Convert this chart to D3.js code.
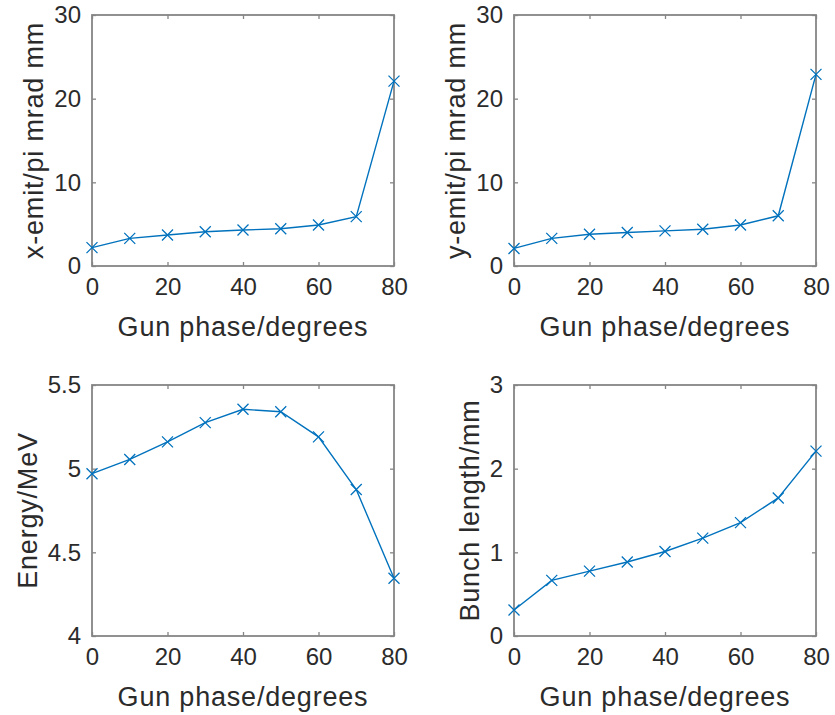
<!DOCTYPE html>
<html>
<head>
<meta charset="utf-8">
<script src="https://cdn.jsdelivr.net/npm/d3@7"></script>
<style>
  html, body { margin: 0; padding: 0; background: #fff; }
  svg { display: block; }
  text { font-family: "Liberation Sans", Arial, Helvetica, sans-serif; fill: #2b2b2b; }
</style>
</head>
<body>
<svg id="chart" width="835" height="715"></svg>
<script>
// Gun phase scan: emittance, energy and bunch length versus gun phase
const gunPhase = [0, 10, 20, 30, 40, 50, 60, 70, 80];
const xEmit = [2.2, 3.3, 3.7, 4.1, 4.3, 4.45, 4.9, 5.9, 22.1];
const yEmit = [2.1, 3.3, 3.8, 4.0, 4.2, 4.4, 4.9, 6.0, 22.9];
const energy = [4.97, 5.055, 5.16, 5.275, 5.355, 5.34, 5.19, 4.875, 4.345];
const bunchLength = [0.31, 0.665, 0.775, 0.885, 1.01, 1.17, 1.355, 1.65, 2.21];

const xTicks = [0, 20, 40, 60, 80];
const emitTicks = [0, 10, 20, 30];
const energyTicks = [4, 4.5, 5, 5.5];
const bunchTicks = [0, 1, 2, 3];

const xLabel = "Gun phase/degrees";

const panels = [
  { x0: 92,  y0: 15,  values: xEmit,       domain: [0, 30],   ticks: emitTicks,   label: "x-emit/pi mrad mm", fmt: d3.format("d") },
  { x0: 514, y0: 15,  values: yEmit,       domain: [0, 30],   ticks: emitTicks,   label: "y-emit/pi mrad mm", fmt: d3.format("d") },
  { x0: 92,  y0: 385, values: energy,      domain: [4, 5.5],  ticks: energyTicks, label: "Energy/MeV",        fmt: d => String(d) },
  { x0: 514, y0: 385, values: bunchLength, domain: [0, 3],    ticks: bunchTicks,  label: "Bunch length/mm",   fmt: d3.format("d") }
];

const W = 302, H = 251;
const lineColor = "#0072BD";
const axisColor = "#858585";
const svg = d3.select("#chart");

panels.forEach(p => {
  const g = svg.append("g").attr("transform", `translate(${p.x0},${p.y0})`);
  const x = d3.scaleLinear().domain([0, 80]).range([0, W]);
  const y = d3.scaleLinear().domain(p.domain).range([H, 0]);

  // inward ticks on all four sides
  const tickLen = 4;
  const gx = g.append("g").attr("transform", `translate(0,${H})`)
    .call(d3.axisBottom(x).tickValues(xTicks).tickSizeInner(-tickLen).tickSizeOuter(0).tickPadding(12).tickFormat(d3.format("d")));
  const gy = g.append("g")
    .call(d3.axisLeft(y).tickValues(p.ticks).tickSizeInner(-tickLen).tickSizeOuter(0).tickPadding(11).tickFormat(p.fmt));
  const gxt = g.append("g").call(d3.axisTop(x).tickValues(xTicks).tickSizeInner(-tickLen).tickSizeOuter(0).tickFormat(""));
  const gyr = g.append("g").attr("transform", `translate(${W},0)`).call(d3.axisRight(y).tickValues(p.ticks).tickSizeInner(-tickLen).tickSizeOuter(0).tickFormat(""));

  [gx, gy, gxt, gyr].forEach(a => {
    a.select(".domain").remove();
    a.selectAll(".tick line").attr("stroke", axisColor).attr("stroke-width", 1.3);
    a.selectAll(".tick text")
      .attr("font-size", 24)
      .attr("fill", "#2b2b2b")
      .style("font-family", "'Liberation Sans', Arial, sans-serif");
  });

  // axes box
  g.append("rect")
    .attr("x", 0).attr("y", 0).attr("width", W).attr("height", H)
    .attr("fill", "none").attr("stroke", axisColor).attr("stroke-width", 1.8);

  // data line
  const line = d3.line().x((d, i) => x(gunPhase[i])).y(d => y(d));
  g.append("path")
    .datum(p.values)
    .attr("d", line)
    .attr("fill", "none")
    .attr("stroke", lineColor)
    .attr("stroke-width", 1.4);

  // x markers
  const m = 5.5;
  g.selectAll(".mk")
    .data(p.values)
    .enter().append("path")
    .attr("class", "mk")
    .attr("transform", (d, i) => `translate(${x(gunPhase[i])},${y(d)})`)
    .attr("d", `M${-m},${-m}L${m},${m}M${-m},${m}L${m},${-m}`)
    .attr("stroke", lineColor)
    .attr("stroke-width", 1.3)
    .attr("fill", "none");

  // axis labels
  g.append("text")
    .attr("x", W / 2).attr("y", H + 70)
    .attr("text-anchor", "middle")
    .attr("font-size", 27)
    .style("letter-spacing", "0.8px")
    .text(xLabel);

  // y label sits just left of the widest tick label
  let tickW = 0;
  gy.selectAll(".tick text").each(function () { tickW = Math.max(tickW, this.getBBox().width); });
  const labelX = -(11 + tickW + 11);
  g.append("text")
    .attr("transform", `translate(${labelX},${H / 2}) rotate(-90)`)
    .attr("text-anchor", "middle")
    .attr("font-size", 27)
    .style("letter-spacing", "0.8px")
    .text(p.label);
});
</script>
</body>
</html>
